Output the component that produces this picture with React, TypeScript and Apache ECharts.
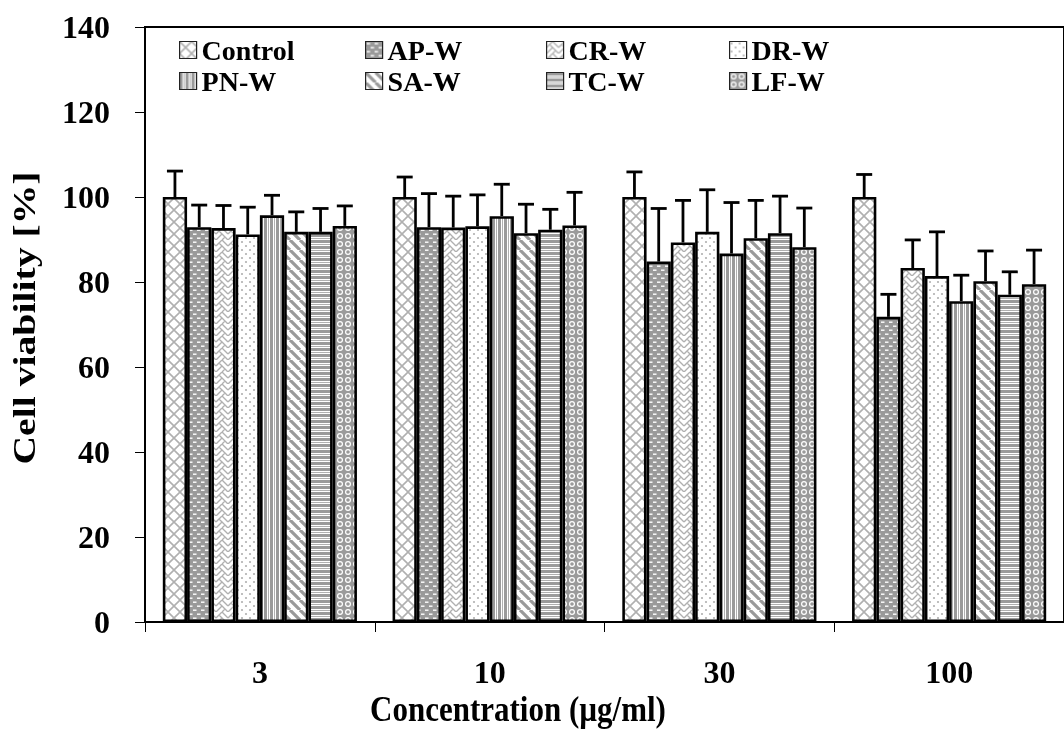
import React, { useEffect, useRef } from "react";
import * as echarts from "echarts";

const categories = ["3", "10", "30", "100"];
const seriesNames = ["Control", "AP-W", "CR-W", "DR-W", "PN-W", "SA-W", "TC-W", "LF-W"];
const yTicks = { min: 0, max: 140, interval: 20 };

const controlVals = [100, 100, 100, 100];
const apVals = [92.9, 92.9, 84.8, 71.8];
const crVals = [92.7, 92.8, 89.3, 83.3];
const drVals = [91.2, 93.1, 91.8, 81.4];
const pnVals = [95.7, 95.5, 86.7, 75.5];
const saVals = [91.8, 91.5, 90.3, 80.2];
const tcVals = [91.8, 92.3, 91.5, 77.0];
const lfVals = [93.2, 93.3, 88.2, 79.5];

const controlErr = [6.1, 4.7, 5.9, 5.3];
const apErr = [5.2, 7.9, 12.5, 5.3];
const crErr = [5.3, 7.4, 9.9, 6.6];
const drErr = [6.4, 7.4, 9.9, 10.4];
const pnErr = [4.7, 7.5, 12.0, 6.1];
const saErr = [4.7, 6.8, 8.9, 7.1];
const tcErr = [5.5, 4.8, 8.7, 5.4];
const lfErr = [4.7, 7.8, 9.2, 8.0];

const allVals = [controlVals, apVals, crVals, drVals, pnVals, saVals, tcVals, lfVals];
const allErr = [controlErr, apErr, crErr, drErr, pnErr, saErr, tcErr, lfErr];

const FONT = "'Liberation Serif', 'Times New Roman', serif";
const CAT_GAP = 0.155;

function makePattern(kind: number) {
  const c = document.createElement("canvas");
  let w = 12, h = 12;
  const G = "#9a9a9a";
  const LG = "#b0b0b0";
  switch (kind) {
    case 0: w = 12; h = 12; break;
    case 1: w = 8; h = 8; break;
    case 2: w = 12; h = 12; break;
    case 3: w = 8; h = 8; break;
    case 4: w = 6; h = 6; break;
    case 5: w = 10; h = 10; break;
    case 6: w = 6; h = 6; break;
    case 7: w = 8; h = 8; break;
  }
  c.width = w; c.height = h;
  const ctx = c.getContext("2d")!;
  ctx.fillStyle = "#ffffff";
  ctx.fillRect(0, 0, w, h);
  if (kind === 0) {
    ctx.strokeStyle = LG; ctx.lineWidth = 1.6;
    ctx.beginPath();
    ctx.moveTo(0, 0); ctx.lineTo(12, 12);
    ctx.moveTo(12, 0); ctx.lineTo(0, 12);
    ctx.stroke();
  } else if (kind === 1) {
    ctx.fillStyle = G; ctx.fillRect(0, 0, w, h);
    ctx.fillStyle = "#ffffff";
    ctx.fillRect(1, 1.5, 3.5, 1.4);
    ctx.fillRect(5, 5.5, 3.5, 1.4);
    ctx.fillRect(-3, 5.5, 3.5, 1.4);
  } else if (kind === 2) {
    ctx.strokeStyle = LG; ctx.lineWidth = 1.4;
    ctx.beginPath();
    ctx.moveTo(0, 6); ctx.lineTo(6, 0); ctx.lineTo(12, 6);
    ctx.moveTo(0, 12); ctx.lineTo(6, 6); ctx.lineTo(12, 12);
    ctx.moveTo(3, 3); ctx.lineTo(6, 6);
    ctx.moveTo(9, 9); ctx.lineTo(6, 12);
    ctx.stroke();
  } else if (kind === 3) {
    ctx.fillStyle = LG;
    ctx.beginPath(); ctx.arc(2, 2, 1.1, 0, Math.PI * 2); ctx.fill();
    ctx.beginPath(); ctx.arc(6, 6, 1.1, 0, Math.PI * 2); ctx.fill();
  } else if (kind === 4) {
    ctx.fillStyle = G; ctx.fillRect(0, 0, 3, h);
    ctx.fillStyle = LG; ctx.fillRect(4, 0, 1, h);
  } else if (kind === 5) {
    ctx.strokeStyle = G; ctx.lineWidth = 3.2;
    ctx.beginPath();
    for (let k = -2; k <= 2; k++) {
      ctx.moveTo(k * 10, 0); ctx.lineTo(k * 10 + 10, 10);
    }
    ctx.stroke();
  } else if (kind === 6) {
    ctx.fillStyle = G; ctx.fillRect(0, 0, w, 3);
    ctx.fillStyle = LG; ctx.fillRect(0, 4, w, 1);
  } else if (kind === 7) {
    ctx.fillStyle = G; ctx.fillRect(0, 0, w, h);
    ctx.fillStyle = "#ffffff";
    ctx.beginPath(); ctx.arc(4, 4, 3, 0, Math.PI * 2); ctx.fill();
    ctx.fillStyle = G;
    ctx.beginPath(); ctx.arc(4, 4, 1.8, 0, Math.PI * 2); ctx.fill();
  }
  return { image: c, repeat: "repeat", imageWidth: w, imageHeight: h } as any;
}

const LEGEND_COLS = [179, 365, 546, 729];
const LEGEND_FONT = 28;
const LEGEND_ROWS = [50 - LEGEND_FONT / 2, 81 - LEGEND_FONT / 2];

function legendItem(name: string, idx: number) {
  const col = idx % 4;
  const row = Math.floor(idx / 4);
  return {
    data: [name],
    left: LEGEND_COLS[col],
    top: LEGEND_ROWS[row],
    itemWidth: 17,
    itemHeight: 17,
    icon: "rect",
    selectedMode: false,
    padding: 0,
    itemStyle: { borderWidth: 1.2, borderColor: "#222" },
    textStyle: {
      fontFamily: FONT,
      fontWeight: "bold",
      fontSize: LEGEND_FONT,
      color: "#000",
      padding: [0, 0, 0, 0],
    },
  };
}

export default function App() {
  const ref = useRef<HTMLDivElement>(null);
  useEffect(() => {
    if (!ref.current) return;
    const chart = echarts.init(ref.current, undefined, { renderer: "svg" });

    const barSeries = seriesNames.map((name, i) => ({
      name,
      type: "bar",
      data: allVals[i],
      barGap: "0%",
      barCategoryGap: CAT_GAP * 100 + "%",
      itemStyle: {
        color: makePattern(i),
        borderColor: "#000",
        borderWidth: 2.6,
      },
      emphasis: { disabled: true },
    }));

    const errData: number[][] = [];
    seriesNames.forEach((_, s) => {
      categories.forEach((_, c) => {
        errData.push([c, s, allVals[s][c], allErr[s][c]]);
      });
    });

    const errSeries = {
      type: "custom",
      name: "err",
      data: errData,
      encode: { x: 0, y: 2 },
      z: 5,
      renderItem: (params: any, api: any) => {
        const c = api.value(0);
        const s = api.value(1);
        const v = api.value(2);
        const e = api.value(3);
        const base = api.coord([c, v]);
        const top = api.coord([c, v + e]);
        const band = api.size([1, 0])[0];
        const bw = (band * (1 - CAT_GAP)) / seriesNames.length;
        const x = base[0] + (s - (seriesNames.length - 1) / 2) * bw;
        const style = { stroke: "#000", lineWidth: 2.8 };
        return {
          type: "group",
          children: [
            { type: "line", shape: { x1: x, y1: base[1], x2: x, y2: top[1] }, style },
            { type: "line", shape: { x1: x - 8, y1: top[1], x2: x + 8, y2: top[1] }, style },
          ],
        };
      },
    };

    const option: any = {
      animation: false,
      textStyle: { fontFamily: FONT },
      grid: {
        left: 145,
        top: 27,
        bottom: 123,
        right: -9,
        show: true,
        borderColor: "#000",
        borderWidth: 2,
        backgroundColor: "transparent",
      },
      legend: seriesNames.map((n, i) => legendItem(n, i)),
      xAxis: {
        type: "category",
        data: categories,
        axisLine: { lineStyle: { color: "#000", width: 2 } },
        axisTick: { show: true, length: 10, lineStyle: { color: "#000", width: 1 } },
        axisLabel: {
          margin: 34,
          fontFamily: FONT,
          fontWeight: "bold",
          fontSize: 32,
          color: "#000",
        },
        splitLine: { show: false },
      },
      yAxis: {
        type: "value",
        min: yTicks.min,
        max: yTicks.max,
        interval: yTicks.interval,
        axisLine: { show: true, lineStyle: { color: "#000", width: 2 } },
        axisTick: { show: true, length: 10, lineStyle: { color: "#000", width: 1 } },
        axisLabel: {
          margin: 35,
          fontFamily: FONT,
          fontWeight: "bold",
          fontSize: 32,
          color: "#000",
        },
        splitLine: { show: false },
      },
      graphic: [
        {
          type: "text",
          x: 518,
          y: 709,
          scaleY: 1.15,
          style: {
            text: "Concentration (µg/ml)",
            textAlign: "center",
            textVerticalAlign: "middle",
            fontFamily: FONT,
            fontWeight: "bold",
            fontSize: 31,
            fill: "#000",
          },
        },
        {
          type: "text",
          x: 25,
          y: 318,
          rotation: Math.PI / 2,
          scaleX: 1.28,
          style: {
            text: "Cell viability [%]",
            textAlign: "center",
            textVerticalAlign: "middle",
            fontFamily: FONT,
            fontWeight: "bold",
            fontSize: 31,
            fill: "#000",
          },
        },
      ],
      series: [...barSeries, errSeries],
    };
    chart.setOption(option);
    return () => chart.dispose();
  }, []);
  return (
    <div
      ref={ref}
      style={{ position: "fixed", left: 0, top: 0, width: 1064, height: 745 }}
    />
  );
}
